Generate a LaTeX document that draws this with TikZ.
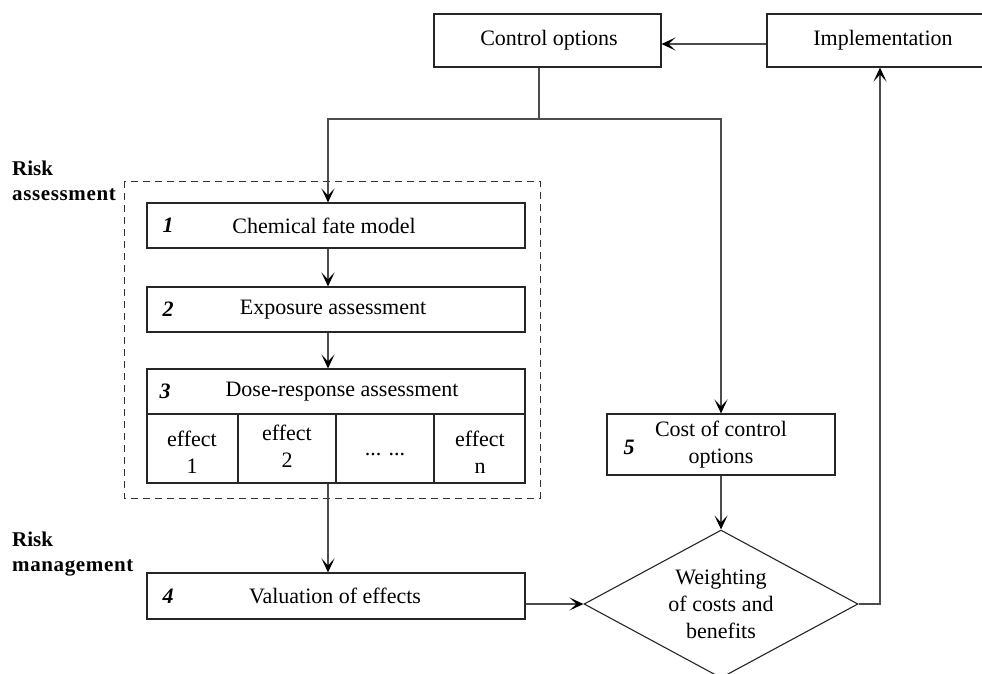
\documentclass[tikz,border=0pt]{standalone}
\usepackage{fontspec}
\setmainfont{Liberation Serif}
\usetikzlibrary{arrows.meta,shapes.geometric}
\begin{document}
\begin{tikzpicture}[x=1pt,y=-1pt,
  every node/.style={font=\fontsize{22}{27}\selectfont, inner sep=0pt},
  box/.style={draw=black!85, line width=1.1pt, rectangle},
  num/.style={font=\fontsize{22}{27}\selectfont\bfseries\itshape},
  lab/.style={font=\fontsize{21}{26}\selectfont\bfseries, align=left, anchor=north west},
  conn/.style={draw=black!70, line width=1.1pt},
  arr/.style={conn, -{Stealth[length=14pt, width=13pt, inset=7pt, color=black]}},
  cell/.style={align=center}
]
\useasboundingbox (0,0) rectangle (982,673);
\clip (0,0) rectangle (982,673);

% labels
\node[lab] (lra) at (12,161) {Risk\\[-1pt]{\addfontfeature{LetterSpace=3}assessment}};
\node[lab] (lrm) at (12,532) {Risk\\[-1pt]{\addfontfeature{LetterSpace=3}management}};

% top boxes
\node[box, minimum width=227pt, minimum height=53pt] (ctrl) at (547.5,40.5) {};
\node (ctrlt) at (549,40.5) {Control options};
\node[box, minimum width=232pt, minimum height=53pt] (impl) at (883,40.5) {Implementation};

% dashed frame
\draw[dashed, dash pattern=on 7pt off 5pt, line width=1pt, black!80] (124,181) rectangle (540,498);

% chain boxes
\node[box, minimum width=378pt, minimum height=45pt] (b1) at (336,225.5) {};
\node (b1t) at (324,225.5) {Chemical fate model};
\node[num] (n1) at (168,225.5) {1};

\node[box, minimum width=378pt, minimum height=45pt] (b2) at (336,309.5) {};
\node (b2t) at (333,309.5) {Exposure assessment};
\node[num] (n2) at (168,309.5) {2};

\node[box, minimum width=378pt, minimum height=45pt] (b3) at (336,391.5) {};
\node (b3t) at (342,391.5) {Dose-response assessment};
\node[num] (n3) at (165,391.5) {3};

% effects row
\node[box, minimum width=91pt, minimum height=69pt] (e1) at (192.5,448.5) {};
\node[box, minimum width=98pt, minimum height=69pt] (e2) at (287,448.5) {};
\node[box, minimum width=98pt, minimum height=69pt] (e3) at (385,448.5) {};
\node[box, minimum width=91pt, minimum height=69pt] (e4) at (479.5,448.5) {};
\node[cell] (e1t) at (192,452) {effect\\1};
\node[cell] (e2t) at (287,446) {effect\\2};
\node[cell] (e3t) at (385,455) {... ...};
\node[cell] (e4t) at (480,452) {effect\\n};

% valuation
\node[box, minimum width=378pt, minimum height=46pt] (b4) at (336,596) {};
\node (b4t) at (335,596) {Valuation of effects};
\node[num] (n4) at (168,596) {4};

% cost
\node[box, minimum width=228pt, minimum height=61pt] (cost) at (721,444.5) {};
\node[align=center] (costt) at (721,444.5) {Cost of control\\options};
\node[num] (n5) at (629,447) {5};

% diamond
\node[draw=black!85, line width=1.1pt, diamond, aspect=1.85, minimum width=274pt, minimum height=148pt, align=center] (dia) at (721,604) {Weighting\\of costs and\\benefits};

% connectors
\coordinate (split) at (539,119);
\coordinate (ax) at (328,0);
\coordinate (up) at (880,0);
\draw[arr] ([yshift=-3.5pt]impl.west) -- ([yshift=-3.5pt]ctrl.east);
\draw[conn] (ctrl.south -| split) -- (split);
\draw[arr] (split) -| (b1.north -| ax);
\draw[arr] (split) -| (cost.north);
\draw[arr] (b1.south -| ax) -- (b2.north -| ax);
\draw[arr] (b2.south -| ax) -- (b3.north -| ax);
\draw[arr] (e2.south -| ax) -- (b4.north -| ax);
\draw[arr] (cost.south) -- (dia.north);
\draw[arr] (b4.east |- dia.west) -- (dia.west);
\draw[arr] (dia.east) -| (impl.south -| up);
\end{tikzpicture}
\end{document}
